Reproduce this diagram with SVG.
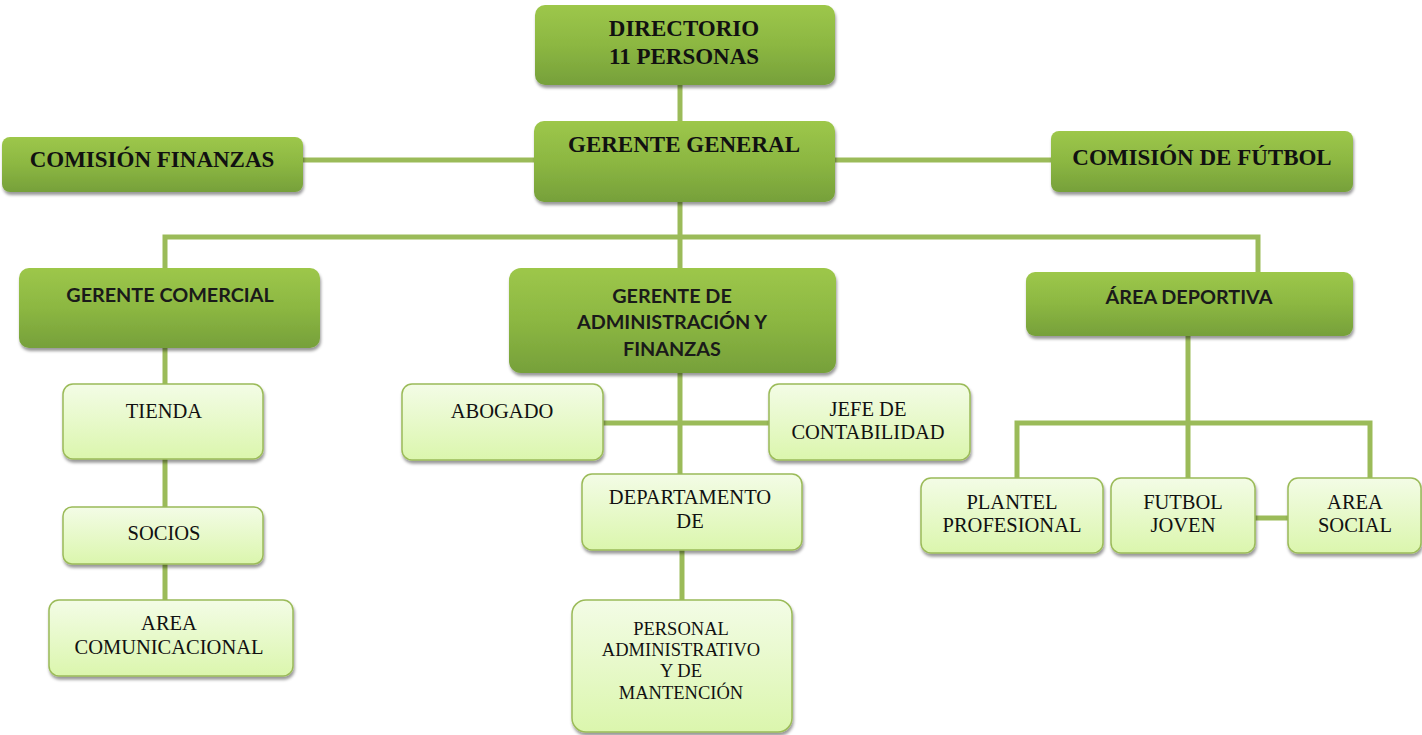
<svg xmlns="http://www.w3.org/2000/svg" width="1422" height="735" viewBox="0 0 1422 735">
<defs>
<linearGradient id="gDark" x1="0" y1="0" x2="0" y2="1">
<stop offset="0" stop-color="#9dc74a"/>
<stop offset="0.5" stop-color="#8cb742"/>
<stop offset="1" stop-color="#76a03a"/>
</linearGradient>
<linearGradient id="gLight" x1="0" y1="0" x2="0" y2="1">
<stop offset="0" stop-color="#f3fce6"/>
<stop offset="1" stop-color="#dbf6ad"/>
</linearGradient>
<filter id="sh" x="-10%" y="-10%" width="120%" height="130%">
<feDropShadow dx="1" dy="3" stdDeviation="1.5" flood-color="#000" flood-opacity="0.4"/>
</filter>
<style>
.dark{fill:url(#gDark);filter:url(#sh)}
.light{fill:url(#gLight);stroke:#9bbb59;stroke-width:1.5;filter:url(#sh)}
.ts{font-family:"Liberation Serif","Times New Roman",serif;font-weight:bold;font-size:23px;fill:#111;text-anchor:middle}
.tc{font-family:Lato,"Liberation Sans",sans-serif;font-weight:bold;font-size:19.8px;fill:#1a1a1a;text-anchor:middle}
.tl{font-family:"Liberation Serif","Times New Roman",serif;font-size:20.5px;fill:#111;text-anchor:middle}
.tp{font-family:"Liberation Serif","Times New Roman",serif;font-size:18.5px;fill:#111;text-anchor:middle}
.con{fill:none;stroke:#9bbb59;stroke-width:5}
</style>
</defs>
<rect width="1422" height="735" fill="#fff"/>
<g id="connectors">
<path class="con" d="M680 85V121"/>
<path class="con" d="M303 160H534"/>
<path class="con" d="M835 160H1051"/>
<path class="con" d="M680 202V268"/>
<path class="con" d="M165 268V237H1258V272"/>
<path class="con" d="M165 348V600"/>
<path class="con" d="M680 373V475"/>
<path class="con" d="M602 423H769"/>
<path class="con" d="M682 550V600"/>
<path class="con" d="M1188 336V478"/>
<path class="con" d="M1017 478V423H1370V478"/>
<path class="con" d="M1255 518H1288"/>
</g>
<g id="directorio">
<rect class="dark" x="535" y="5" width="300" height="80" rx="10"/>
<text class="ts" x="684" y="36">DIRECTORIO</text>
<text class="ts" x="684" y="64">11 PERSONAS</text>
</g>
<g id="gerente-general">
<rect class="dark" x="534" y="121" width="301" height="81" rx="10"/>
<text class="ts" x="684" y="152">GERENTE GENERAL</text>
</g>
<g id="comision-finanzas">
<rect class="dark" x="2" y="137" width="301" height="55" rx="8"/>
<text class="ts" x="152" y="167">COMISIÓN FINANZAS</text>
</g>
<g id="comision-futbol">
<rect class="dark" x="1051" y="131" width="302" height="61" rx="8"/>
<text class="ts" x="1202" y="165">COMISIÓN DE FÚTBOL</text>
</g>
<g id="gerente-comercial">
<rect class="dark" x="19" y="268" width="301" height="80" rx="10"/>
<text class="tc" x="170" y="302">GERENTE COMERCIAL</text>
</g>
<g id="gerente-admin">
<rect class="dark" x="509" y="268" width="327" height="105" rx="12"/>
<text class="tc" x="672" y="303">GERENTE DE</text>
<text class="tc" x="672" y="329">ADMINISTRACIÓN Y</text>
<text class="tc" x="672" y="356">FINANZAS</text>
</g>
<g id="area-deportiva">
<rect class="dark" x="1026" y="272" width="327" height="64" rx="9"/>
<text class="tc" x="1189" y="304">ÁREA DEPORTIVA</text>
</g>
<g id="tienda">
<rect class="light" x="63" y="384" width="200" height="75" rx="10"/>
<text class="tl" x="164" y="418">TIENDA</text>
</g>
<g id="socios">
<rect class="light" x="63" y="507" width="200" height="57" rx="9"/>
<text class="tl" x="164" y="540">SOCIOS</text>
</g>
<g id="area-comunicacional">
<rect class="light" x="49" y="600" width="244" height="76" rx="10"/>
<text class="tl" x="169" y="630">AREA</text>
<text class="tl" x="169" y="654">COMUNICACIONAL</text>
</g>
<g id="abogado">
<rect class="light" x="402" y="384" width="201" height="76" rx="10"/>
<text class="tl" x="502" y="418">ABOGADO</text>
</g>
<g id="jefe-contabilidad">
<rect class="light" x="769" y="384" width="201" height="76" rx="10"/>
<text class="tl" x="868" y="416">JEFE DE</text>
<text class="tl" x="868" y="439">CONTABILIDAD</text>
</g>
<g id="departamento">
<rect class="light" x="582" y="474" width="220" height="76" rx="10"/>
<text class="tl" x="690" y="504">DEPARTAMENTO</text>
<text class="tl" x="690" y="528">DE</text>
</g>
<g id="personal">
<rect class="light" x="572" y="600" width="220" height="132" rx="14"/>
<text class="tp" x="681" y="635">PERSONAL</text>
<text class="tp" x="681" y="656">ADMINISTRATIVO</text>
<text class="tp" x="681" y="677">Y DE</text>
<text class="tp" x="681" y="699">MANTENCIÓN</text>
</g>
<g id="plantel">
<rect class="light" x="921" y="478" width="182" height="75" rx="10"/>
<text class="tl" x="1012" y="509">PLANTEL</text>
<text class="tl" x="1012" y="532">PROFESIONAL</text>
</g>
<g id="futbol-joven">
<rect class="light" x="1111" y="478" width="144" height="75" rx="10"/>
<text class="tl" x="1183" y="509">FUTBOL</text>
<text class="tl" x="1183" y="532">JOVEN</text>
</g>
<g id="area-social">
<rect class="light" x="1288" y="478" width="133" height="75" rx="10"/>
<text class="tl" x="1355" y="509">AREA</text>
<text class="tl" x="1355" y="532">SOCIAL</text>
</g>
</svg>
